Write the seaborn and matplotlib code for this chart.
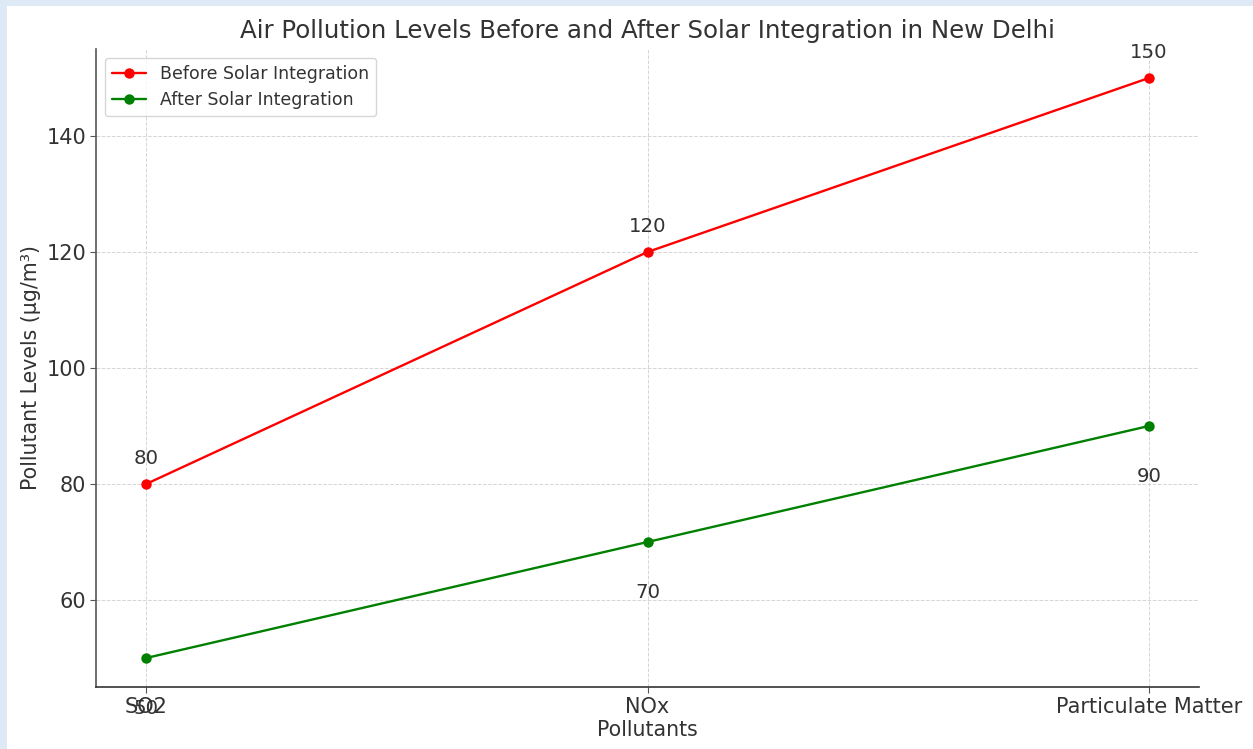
import matplotlib
matplotlib.use("Agg")
import matplotlib.pyplot as plt
from matplotlib.patches import Rectangle
import seaborn as sns
import pandas as pd

pollutants = ["SO2", "NOx", "Particulate Matter"]
before_solar = [80, 120, 150]
after_solar = [50, 70, 90]
series_names = ["Before Solar Integration", "After Solar Integration"]
series_colors = ["red", "green"]

sns.set_theme(style="whitegrid")
plt.rcParams["font.family"] = ["DejaVu Sans"]
plt.rcParams["text.color"] = "#333333"
plt.rcParams["axes.labelcolor"] = "#333333"
plt.rcParams["xtick.color"] = "#333333"
plt.rcParams["ytick.color"] = "#333333"

fig = plt.figure(figsize=(12.53, 7.49), dpi=100)
fig.patch.set_facecolor("white")
# light frame strips along the top and left edges
fig.patches.append(Rectangle((0, 0), 7 / 1253, 1, transform=fig.transFigure,
                             facecolor="#dde9f4", edgecolor="none", zorder=0))
fig.patches.append(Rectangle((0, 1 - 6 / 749), 1, 6 / 749, transform=fig.transFigure,
                             facecolor="#dde9f4", edgecolor="none", zorder=0))

ax = fig.add_axes([96 / 1253, 1 - 687 / 749, (1199 - 96) / 1253, (687 - 49) / 749])
ax.set_facecolor("white")

df = pd.DataFrame({
    "Pollutant": pollutants * 2,
    "Level": before_solar + after_solar,
    "Series": [series_names[0]] * 3 + [series_names[1]] * 3,
})
sns.lineplot(data=df, x="Pollutant", y="Level", hue="Series",
             palette=dict(zip(series_names, series_colors)),
             marker="o", markersize=7.5, markeredgewidth=0, linewidth=1.7,
             sort=False, ax=ax)

for i, v in enumerate(before_solar):
    ax.annotate(f"{v}", (i, v), xytext=(0, 18), textcoords="offset points",
                ha="center", va="center", fontsize=14.2, color="#333333")
for i, v in enumerate(after_solar):
    ax.annotate(f"{v}", (i, v), xytext=(0, -36.5), textcoords="offset points",
                ha="center", va="center", fontsize=14.2, color="#333333")

ax.set_xlim(-0.1, 2.1)
ax.set_ylim(45, 155)
ax.set_yticks([60, 80, 100, 120, 140])

ax.grid(True, linestyle="--", linewidth=0.7, color="#d5d5d5")
for side in ["top", "right"]:
    ax.spines[side].set_visible(False)
ax.spines["left"].set_color("#555555")
ax.spines["bottom"].set_color("#333333")
ax.spines["left"].set_linewidth(1.2)
ax.spines["bottom"].set_linewidth(1.2)
ax.tick_params(axis="both", which="major", length=4, width=0.8, color="#555555",
               labelsize=15, bottom=True, left=True, pad=3)

ax.set_title("Air Pollution Levels Before and After Solar Integration in New Delhi",
             fontsize=17.65, color="#333333", pad=8)
ax.set_xlabel("Pollutants", fontsize=14.8, labelpad=2)
ax.set_ylabel("Pollutant Levels (µg/m³)", fontsize=14.8, labelpad=4)

leg = ax.legend(loc="upper left", fontsize=12.5, frameon=True, title=None,
                borderaxespad=0.5, handlelength=2.0)
leg.get_frame().set_edgecolor("#cccccc")
leg.get_frame().set_linewidth(1.0)

fig.savefig("out.png", dpi=100)
